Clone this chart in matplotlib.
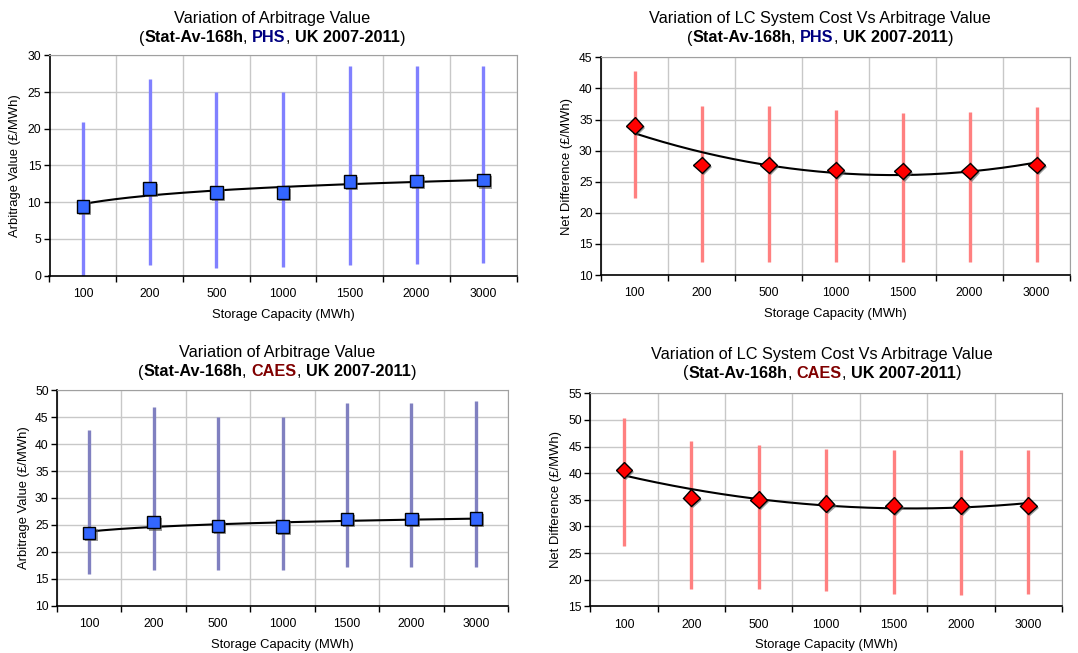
import numpy as np
import matplotlib
matplotlib.use('Agg')
import matplotlib.pyplot as plt
import matplotlib.patheffects as pe

plt.rcParams['font.family'] = ['Liberation Sans', 'DejaVu Sans']

# categories
capacity = ['100', '200', '500', '1000', '1500', '2000', '3000']

# PHS arbitrage value (mean, min, max)
phs_arb_mean = [9.4, 11.9, 11.3, 11.3, 12.8, 12.9, 13.0]
phs_arb_low = [0.0, 1.4, 1.1, 1.2, 1.5, 1.6, 1.7]
phs_arb_high = [20.9, 26.8, 25.0, 25.0, 28.5, 28.5, 28.5]

# PHS net difference
phs_net_mean = [34.0, 27.7, 27.7, 26.9, 26.7, 26.7, 27.7]
phs_net_low = [22.4, 12.1, 12.1, 12.1, 12.1, 12.1, 12.1]
phs_net_high = [42.8, 37.2, 37.2, 36.5, 36.0, 36.2, 37.0]

# CAES arbitrage value
caes_arb_mean = [23.5, 25.5, 24.8, 24.7, 26.1, 26.1, 26.2]
caes_arb_low = [15.9, 16.7, 16.7, 16.7, 17.1, 17.1, 17.1]
caes_arb_high = [42.6, 46.9, 45.0, 45.0, 47.6, 47.6, 48.0]

# CAES net difference
caes_net_mean = [40.6, 35.4, 35.0, 34.3, 33.9, 33.9, 33.9]
caes_net_low = [26.3, 18.3, 18.3, 17.9, 17.3, 17.1, 17.3]
caes_net_high = [50.4, 46.0, 45.3, 44.5, 44.4, 44.4, 44.4]

W, H = 1078, 653
fig = plt.figure(figsize=(W / 100, H / 100), dpi=100)


def px_axes(l, r, t, b):
    return fig.add_axes([l / W, (H - b) / H, (r - l) / W, (b - t) / H])


def draw_panel(ax, mean, low, high, ylim, ystep, ylabel, bar_color,
               marker, face, trend):
    x = np.arange(len(capacity))
    ax.vlines(x, low, high, color=bar_color, lw=2.4, zorder=2)
    xs = np.linspace(0, 6, 200)
    if trend == 'log':
        a, b = np.polyfit(np.log(x + 1), mean, 1)
        ax.plot(xs, a * np.log(xs + 1) + b, color='black', lw=1.5, zorder=3)
    else:
        c = np.polyfit(x, mean, 2)
        ax.plot(xs, np.polyval(c, xs), color='black', lw=1.5, zorder=3)
    ms = 9 if marker == 's' else 8.5
    ax.plot(x, mean, ls='none', marker=marker, ms=ms, mfc=face, mec='black',
            mew=1.0, zorder=4,
            path_effects=[pe.SimplePatchShadow(offset=(1.5, -1.5),
                                               shadow_rgbFace='0.35',
                                               alpha=0.6),
                          pe.Normal()])
    ax.set_xlim(-0.5, 6.5)
    ax.set_ylim(*ylim)
    ax.set_yticks(np.arange(ylim[0], ylim[1] + 0.1, ystep))
    ax.set_xticks(x)
    ax.set_xticklabels(capacity)
    ax.set_xticks(np.arange(-0.5, 7, 1), minor=True)
    ax.tick_params(axis='x', which='major', length=0, pad=9, labelsize=8.7)
    ax.tick_params(axis='x', which='minor', length=4, width=1, direction='out')
    ax.tick_params(axis='y', length=4, width=1, direction='out', pad=2,
                   labelsize=8.7)
    ax.grid(axis='y', which='major', color='#c8c8c8', lw=1)
    ax.grid(axis='x', which='minor', color='#c8c8c8', lw=1)
    ax.set_axisbelow(True)
    for s in ['top', 'right']:
        ax.spines[s].set_color('#a0a0a0')
    for s in ['left', 'bottom']:
        ax.spines[s].set_color('black')
        ax.spines[s].set_linewidth(1.2)
    ax.set_xlabel('Storage Capacity (MWh)', fontsize=9.4, labelpad=6)
    ax.set_ylabel(ylabel, fontsize=9.4, va='center')
    ax.yaxis.set_label_coords(-0.073, 0.5)


def two_line_title(cx, y1, y2, line1, tech, tech_color):
    fig.text(cx / W, 1 - y1 / H, line1, ha='center', va='center',
             fontsize=11.7)
    pieces = [('(', 'normal', 'black'), ('Stat-Av-168h', 'bold', 'black'),
              (', ', 'normal', 'black'), (tech, 'bold', tech_color),
              (', ', 'normal', 'black'), ('UK 2007-2011', 'bold', 'black'),
              (')', 'normal', 'black')]
    r = fig.canvas.get_renderer()
    objs = []
    widths = []
    for s, w, c in pieces:
        t = fig.text(0, 1 - y2 / H, s, ha='left', va='center', fontsize=11.7,
                     fontweight=w, color=c)
        objs.append(t)
        widths.append(t.get_window_extent(renderer=r).width)
    x0 = cx - sum(widths) / 2
    for t, w in zip(objs, widths):
        t.set_x(x0 / W)
        x0 += w


ax1 = px_axes(49.5, 516.7, 55.3, 275.7)
draw_panel(ax1, phs_arb_mean, phs_arb_low, phs_arb_high, (0, 30), 5,
           'Arbitrage Value (£/MWh)', '#8080ff', 's', '#3366ff', 'log')
two_line_title(272, 18, 38, 'Variation of Arbitrage Value', 'PHS', '#000080')

ax2 = px_axes(601, 1070, 57.3, 275)
draw_panel(ax2, phs_net_mean, phs_net_low, phs_net_high, (10, 45), 5,
           'Net Difference (£/MWh)', '#ff8080', 'D', '#ff0000', 'poly')
two_line_title(820, 18, 38, 'Variation of LC System Cost Vs Arbitrage Value',
               'PHS', '#000080')

ax3 = px_axes(57, 508, 390.3, 605.7)
draw_panel(ax3, caes_arb_mean, caes_arb_low, caes_arb_high, (10, 50), 5,
           'Arbitrage Value (£/MWh)', '#8080c0', 's', '#3366ff', 'log')
two_line_title(277, 353, 372, 'Variation of Arbitrage Value', 'CAES', '#800000')

ax4 = px_axes(590.3, 1062, 393.3, 606.3)
draw_panel(ax4, caes_net_mean, caes_net_low, caes_net_high, (15, 55), 5,
           'Net Difference (£/MWh)', '#ff8080', 'D', '#ff0000', 'poly')
two_line_title(822, 354, 373, 'Variation of LC System Cost Vs Arbitrage Value',
               'CAES', '#800000')

fig.savefig('out.png', dpi=100)
